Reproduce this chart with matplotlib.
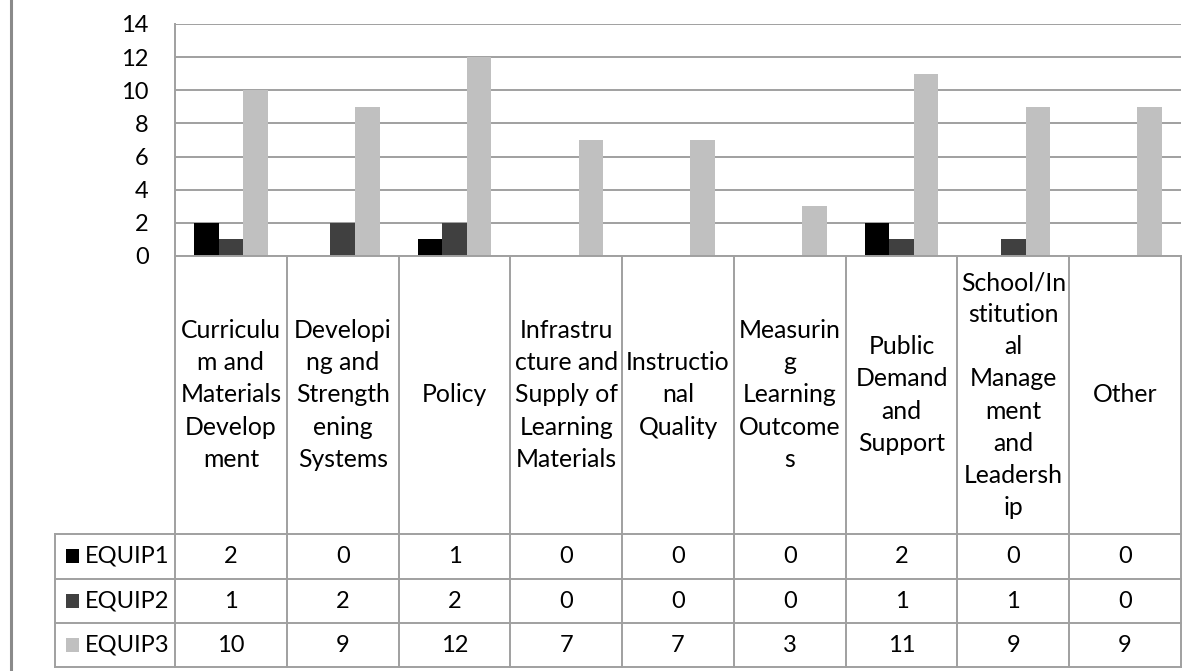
import matplotlib
matplotlib.use("Agg")
import matplotlib.pyplot as plt
import numpy as np
from matplotlib.lines import Line2D
from matplotlib.patches import Rectangle

# Category labels, wrapped the way the data table shows them
categories = [
    "Curriculu\nm and\nMaterials\nDevelop\nment",
    "Developi\nng and\nStrength\nening\nSystems",
    "Policy",
    "Infrastru\ncture and\nSupply of\nLearning\nMaterials",
    "Instructio\nnal\nQuality",
    "Measurin\ng\nLearning\nOutcome\ns",
    "Public\nDemand\nand\nSupport",
    "School/In\nstitution\nal\nManage\nment\nand\nLeadersh\nip",
    "Other",
]
series_names = ["EQUIP1", "EQUIP2", "EQUIP3"]
equip1 = [2, 0, 1, 0, 0, 0, 2, 0, 0]
equip2 = [1, 2, 2, 0, 0, 0, 1, 1, 0]
equip3 = [10, 9, 12, 7, 7, 3, 11, 9, 9]
y_ticks = [0, 2, 4, 6, 8, 10, 12, 14]

series = [equip1, equip2, equip3]
colors = ["#000000", "#404040", "#c0c0c0"]
grid_col = "#a0a0a0"
FONT = "Lato"
FS = 17
FS_CAT = 17.8

W, H = 1196, 671
fig = plt.figure(figsize=(W / 100, H / 100), dpi=100)
fig.patch.set_facecolor("white")

# plot area in pixel coordinates
px_l, px_r, px_t, px_b = 175, 1181, 24, 256
ax = fig.add_axes([px_l / W, 1 - px_b / H, (px_r - px_l) / W, (px_b - px_t) / H])

n = len(categories)
x = np.arange(n)
bw = 0.22
for k, (vals, c) in enumerate(zip(series, colors)):
    ax.bar(x + (k - 1) * bw, vals, width=bw, color=c, zorder=3, linewidth=0)

ax.set_xlim(-0.5, n - 0.5)
ax.set_ylim(0, 14)
ax.set_yticks(y_ticks)
ax.set_yticklabels([str(v) for v in y_ticks], fontfamily=FONT, fontsize=FS)
ax.tick_params(axis="y", length=0, pad=19)
ax.set_xticks([])
ax.yaxis.grid(True, color=grid_col, linewidth=1.4, zorder=0)
for s in ["top", "right", "bottom"]:
    ax.spines[s].set_visible(False)
ax.spines["left"].set_color(grid_col)
ax.spines["left"].set_linewidth(1.4)

# overlay in pixel space for the data table
ov = fig.add_axes([0, 0, 1, 1], zorder=5)
ov.set_xlim(0, W)
ov.set_ylim(H, 0)
ov.axis("off")
ov.patch.set_alpha(0)

fig.canvas.draw()
to_px = lambda xv: ax.transData.transform((xv, 0))[0]
col_edges = [to_px(i - 0.5) for i in range(n + 1)]

hdr_bot = 534
row_edges = [hdr_bot, 579, 623, 667]
leg_left = 55

def hline(x0, x1, y):
    ov.add_line(Line2D([x0, x1], [y, y], color=grid_col, linewidth=1.4))

def vline(xv, y0, y1):
    ov.add_line(Line2D([xv, xv], [y0, y1], color=grid_col, linewidth=1.4))

# header cells (below the axis)
hline(col_edges[0], col_edges[-1], px_b)
for e in col_edges:
    vline(e, px_b, row_edges[-1])
vline(leg_left, row_edges[0], row_edges[-1])
for y in row_edges:
    hline(leg_left, col_edges[-1], y)

for i, lab in enumerate(categories):
    cx = (col_edges[i] + col_edges[i + 1]) / 2
    ov.text(cx, (px_b + hdr_bot) / 2, lab, ha="center", va="center",
            multialignment="center", fontfamily=FONT, fontsize=FS_CAT,
            linespacing=1.48, color="#000000")

for r, (name, vals, c) in enumerate(zip(series_names, series, colors)):
    cy = (row_edges[r] + row_edges[r + 1]) / 2
    ov.add_patch(Rectangle((66, cy - 7.5), 13, 14, facecolor=c, edgecolor="none"))
    ov.text(85, cy, name, ha="left", va="center", fontfamily=FONT,
            fontsize=FS, color="#000000")
    for i, v in enumerate(vals):
        cx = (col_edges[i] + col_edges[i + 1]) / 2
        ov.text(cx, cy, str(v), ha="center", va="center", fontfamily=FONT,
                fontsize=FS, color="#000000")

# chart frame edge on the left
ov.add_line(Line2D([10.5, 10.5], [0, H], color="#8a8a8a", linewidth=2.2))

fig.savefig("out.png", dpi=100, facecolor="white")
